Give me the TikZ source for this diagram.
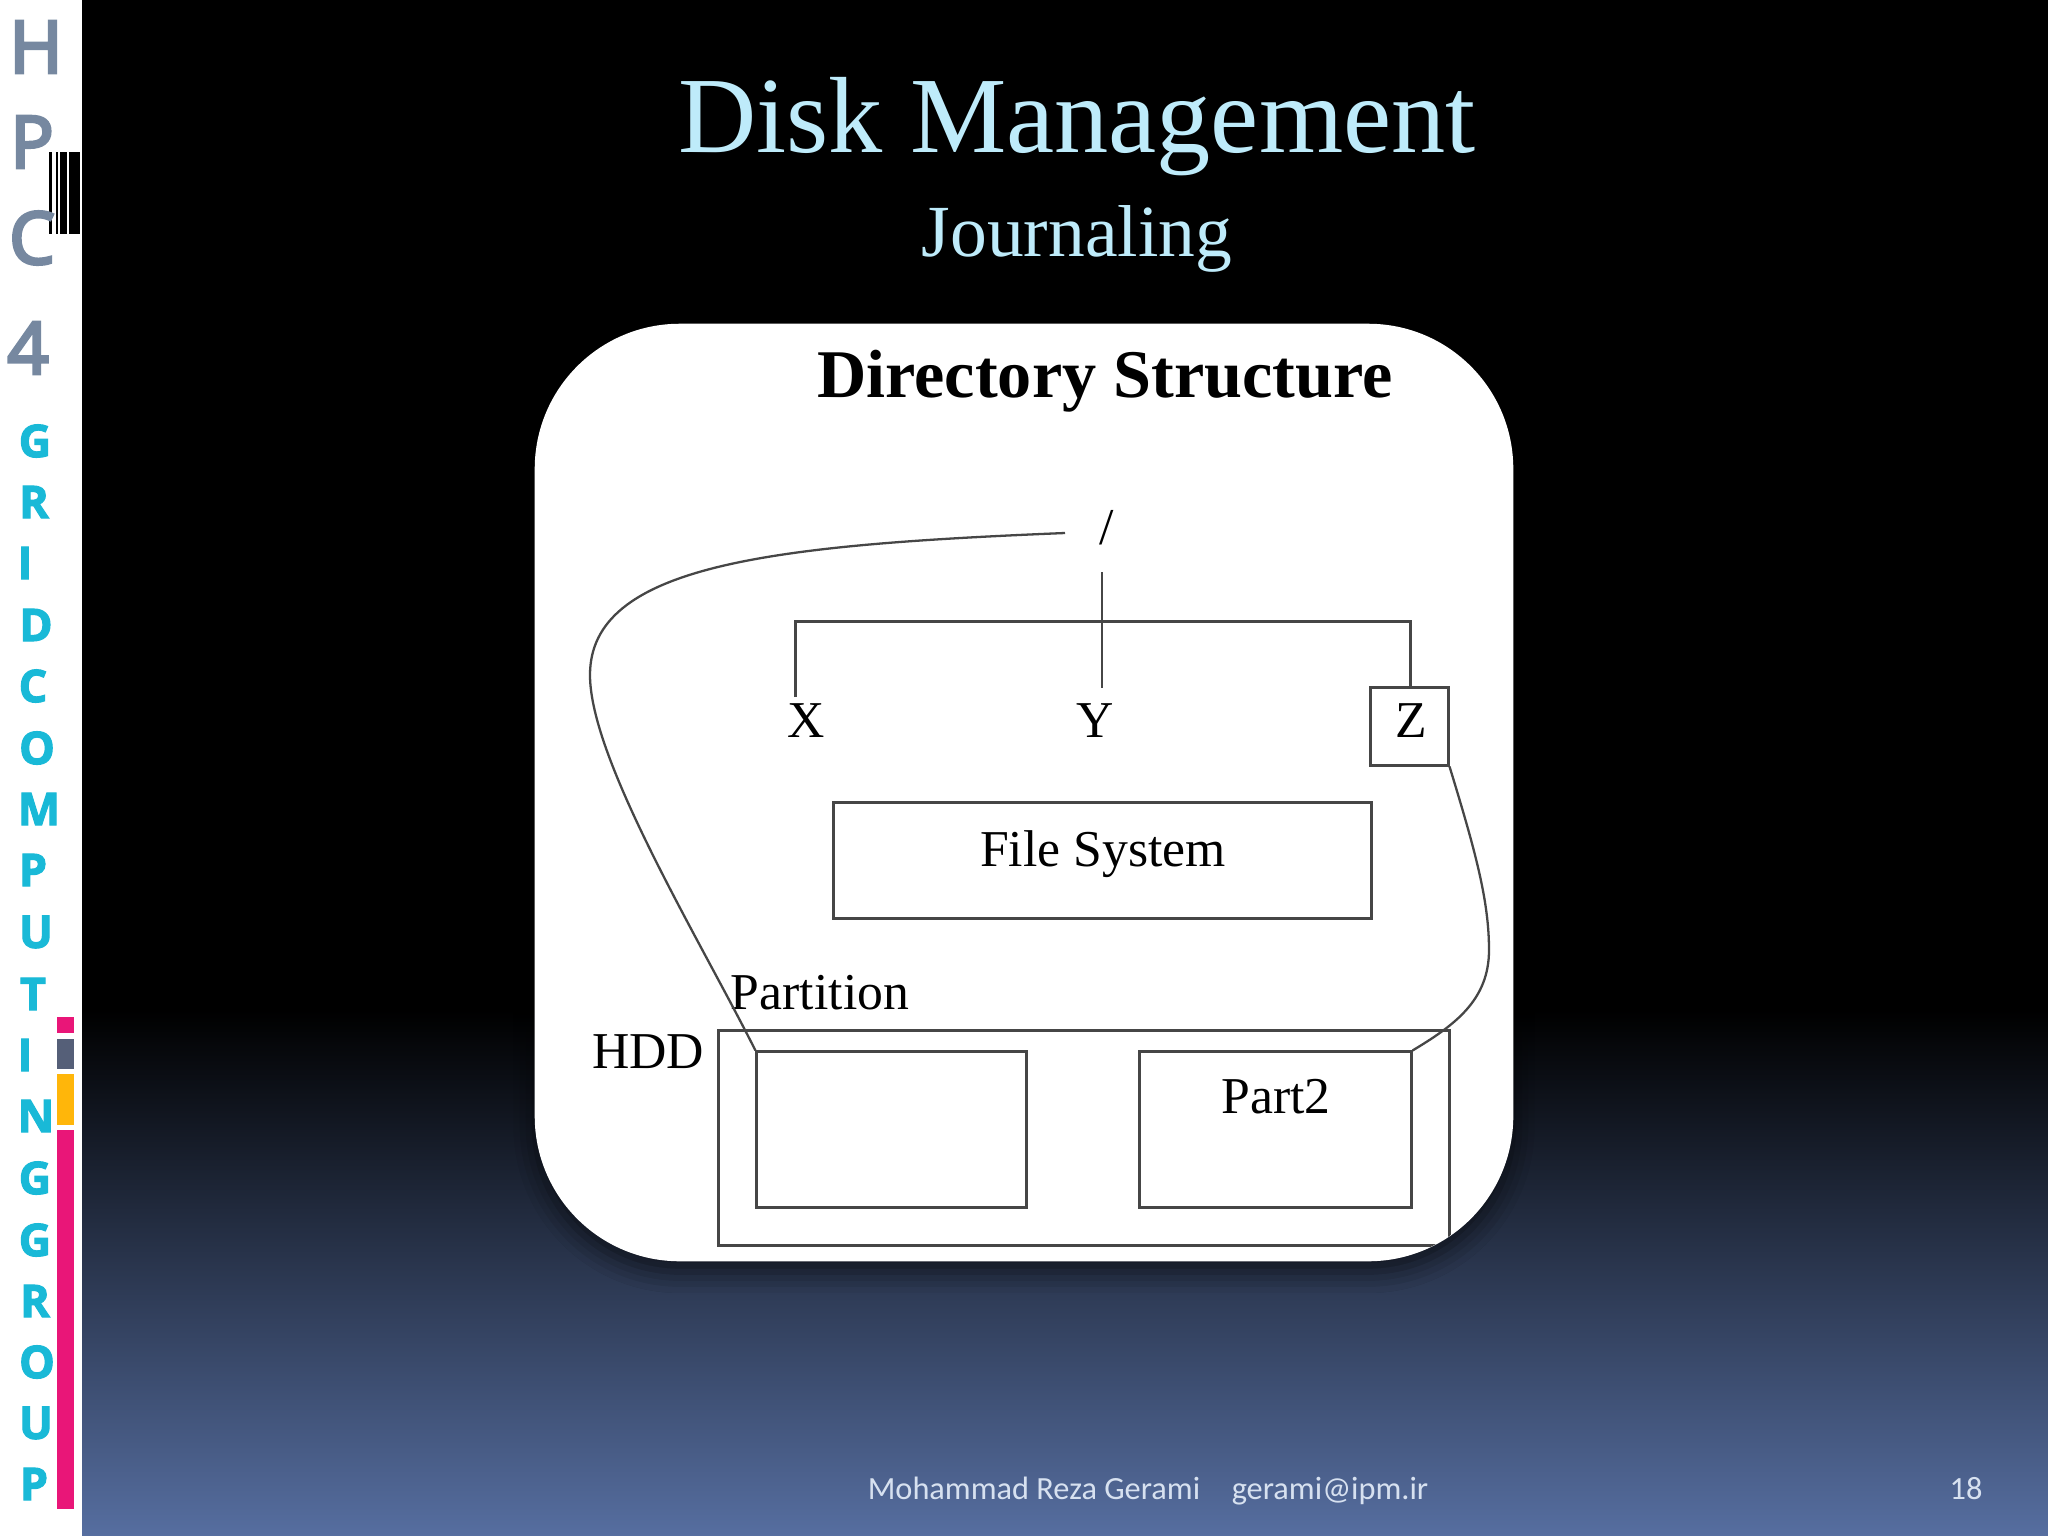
\documentclass[tikz,border=0pt]{standalone}
\usepackage{fontspec}
\setmainfont{Liberation Serif}
\newfontfamily\footfont{Carlito}
\newfontfamily\sidefont{Open Sans}
\usetikzlibrary{shadows.blur}
\definecolor{titleblue}{RGB}{190,235,250}
\definecolor{linegray}{RGB}{70,70,70}
\definecolor{hpcgray}{RGB}{118,136,160}
\definecolor{gridcyan}{RGB}{25,185,215}
\definecolor{barpink}{RGB}{233,22,120}
\definecolor{barslate}{RGB}{85,95,120}
\definecolor{barorange}{RGB}{255,182,10}
\definecolor{slatebottom}{RGB}{86,110,160}
\definecolor{footgray}{RGB}{215,225,240}
\tikzset{
  labeltext/.style={inner sep=0pt,text=black,font=\fontsize{14.7}{15}\selectfont},
  boxnode/.style={draw=linegray,line width=.85pt,inner sep=0pt,fill=none},
  wire/.style={draw=linegray,line width=.65pt},
  footnode/.style={inner sep=0pt,anchor=base,text=footgray,font=\fontsize{9.2}{10}\footfont},
  hpcletter/.style={inner sep=0pt,text=hpcgray,font=\fontsize{20.5}{21}\sidefont,
    execute at begin node={\special{pdf:code 0.46 0.53 0.63 RG 0.9 w 2 Tr}},
    execute at end node={\special{pdf:code 0 Tr}}},
  gridletter/.style={inner sep=0pt,text=gridcyan,font=\fontsize{12.8}{13}\sidefont\bfseries,
    execute at begin node={\special{pdf:code 0 0.5 0.62 RG 0.3 w 2 Tr}},
    execute at end node={\special{pdf:code 0 Tr}}}
}
\begin{document}
\begin{tikzpicture}[x=.01cm,y=-.01cm]

\useasboundingbox (0,0) rectangle (2048,1536);

\fill[black] (0,0) rectangle (2048,1010);

\shade[top color=black,bottom color=slatebottom] (0,1010) rectangle (2048,1536);

\fill[white] (0,0) rectangle (82,1536);

\fill[black] (49,152) rectangle (52,234);

\fill[black] (56,152) rectangle (58,234);

\fill[black] (60,152) rectangle (67,234);

\fill[black] (69,152) rectangle (80,234);

\fill[barpink] (57,1017) rectangle (74,1033);

\fill[barslate] (57,1039) rectangle (74,1069);

\fill[barorange] (57,1074) rectangle (74,1125);

\fill[barpink] (57,1130) rectangle (74,1509);

\draw (36,47) node[hpcletter] (h1) {H};

\draw (32,142) node[hpcletter] (p1) {P};

\draw (32,238) node[hpcletter] (c1) {C};

\draw (28,348) node[hpcletter] (n4) {4};

\draw (35,441) node[gridletter] (g1) {G};

\draw (34,502) node[gridletter] (r1) {R};

\draw (25,563) node[gridletter] (i1) {I};

\draw (36,625) node[gridletter] (d1) {D};

\draw (33,686) node[gridletter] (c2) {C};

\draw (37,748) node[gridletter] (o1) {O};

\draw (39,809) node[gridletter] (m1) {M};

\draw (33,870) node[gridletter] (p2) {P};

\draw (36,932) node[gridletter] (u1) {U};

\draw (33,994) node[gridletter] (t1) {T};

\draw (25,1055) node[gridletter] (i2) {I};

\draw (36,1116) node[gridletter] (n1) {N};

\draw (35,1178) node[gridletter] (g2) {G};

\draw (35,1240) node[gridletter] (g3) {G};

\draw (35,1301) node[gridletter] (r2) {R};

\draw (37,1362) node[gridletter] (o2) {O};

\draw (36,1423) node[gridletter] (u2) {U};

\draw (34,1484) node[gridletter] (p3) {P};

\draw (1077,127) node[inner sep=0pt,text=titleblue,font=\fontsize{30.8}{31}\selectfont] (title) {Disk Management};

\draw (1077,239) node[inner sep=0pt,text=titleblue,font=\fontsize{20.9}{21}\selectfont] (subtitle) {Journaling};

\draw (1024,792.5) node[fill=white,inner sep=0pt,minimum width=9.78cm,minimum height=9.37cm,rounded corners=1.45cm,blur shadow={shadow xshift=0pt,shadow yshift=-3pt,shadow blur radius=6pt,shadow opacity=60}] (panel) {};

\begin{scope}

\clip[rounded corners=1.45cm] (535,324) rectangle (1513,1261);

\draw (1105,381) node[inner sep=0pt,font=\fontsize{19.4}{20}\selectfont\bfseries] (heading) {Directory Structure};

\draw (1107,528) node[labeltext] (root) {/};

\draw (806,721) node[labeltext] (x) {X};

\draw (1095,721) node[labeltext] (y) {Y};

\draw (1409.5,726.5) node[boxnode,minimum width=.77cm,minimum height=.77cm] (zbox) {};

\draw (1411,721) node[labeltext] (z) {Z};

\draw (1102.5,860.5) node[boxnode,minimum width=5.37cm,minimum height=1.15cm] (fs) {};

\draw (1103,854) node[labeltext] (fslabel) {File System};

\draw (820,993) node[labeltext] (partition) {Partition};

\draw (648,1052) node[labeltext] (hdd) {HDD};

\draw (1084,1138) node[boxnode,minimum width=7.3cm,minimum height=2.14cm] (disk) {};

\draw (891.5,1129.5) node[boxnode,minimum width=2.69cm,minimum height=1.55cm] (part1) {};

\draw (1275.5,1129.5) node[boxnode,minimum width=2.71cm,minimum height=1.55cm] (part2) {};

\draw (1276,1097) node[labeltext] (p2label) {Part2};

\coordinate (rootleft) at (1065,533);

\coordinate (rootbelow) at (1102,572);

\coordinate (ytop) at (1102,688);

\coordinate (busleft) at (795,621);

\coordinate (busright) at (1410,621);

\coordinate (xtop) at (795,697);

\coordinate (ztop) at (1410,688);

\draw[boxnode] (xtop) -- (busleft) -- (busright) -- (ztop);

\draw[wire] (rootbelow) -- (ytop);

\draw[wire] (rootleft) .. controls (770,545) and (590,565) .. (590,675) .. controls (590,760) and (700,940) .. (part1.north west);

\draw[wire] (zbox.south east) .. controls (1475,850) and (1489,900) .. (1489,950) .. controls (1489,1000) and (1455,1025) .. (part2.north east);

\end{scope}

\draw (1034,1499) node[footnode] (author) {Mohammad Reza Gerami};

\draw (1330,1499) node[footnode] (mail) {gerami@ipm.ir};

\draw (1966,1499) node[footnode] (page) {18};

\end{tikzpicture}
\end{document}
